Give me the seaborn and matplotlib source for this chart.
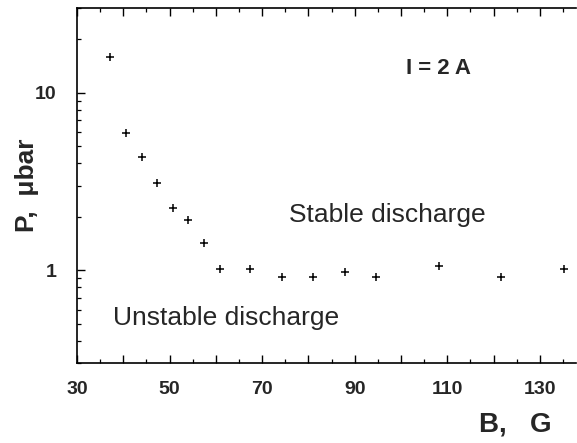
import matplotlib
matplotlib.use("Agg")
import matplotlib.pyplot as plt
import matplotlib.ticker as mticker
import seaborn as sns
import pandas as pd

# Data
B_field = [37.1, 40.6, 44.0, 47.3, 50.7, 54.0, 57.4, 60.8, 67.4, 74.2, 81.0, 87.9, 94.5, 108.1, 121.6, 135.1]
pressure = [15.9, 5.92, 4.33, 3.08, 2.23, 1.92, 1.43, 1.01, 1.01, 0.917, 0.92, 0.98, 0.92, 1.05, 0.92, 1.02]
x_major = [30, 40, 50, 60, 70, 80, 90, 100, 110, 120, 130]
x_labeled = [30, 50, 70, 90, 110, 130]
y_labeled = [1, 10]

sns.set_theme(style="ticks")
plt.rcParams["font.family"] = ["Liberation Sans", "DejaVu Sans"]

df = pd.DataFrame({"B": B_field, "P": pressure})

fig = plt.figure(figsize=(5.77, 4.43), dpi=100)
ax = fig.add_axes([77 / 577, 80 / 443, 499 / 577, 355 / 443])

sns.scatterplot(data=df, x="B", y="P", marker="+", color="black", s=26,
                linewidth=1.1, ax=ax, legend=False)

ax.set_yscale("log")
ax.set_ylim(0.3, 30)
ax.set_xlim(30, 137.8)

ax.xaxis.set_major_locator(mticker.FixedLocator(x_major))
ax.xaxis.set_minor_locator(mticker.MultipleLocator(5))
ax.xaxis.set_major_formatter(mticker.FuncFormatter(
    lambda v, p: f"{int(round(v))}" if int(round(v)) in x_labeled else ""))
ax.yaxis.set_major_locator(mticker.FixedLocator(y_labeled))
ax.yaxis.set_minor_locator(mticker.LogLocator(base=10, subs=range(2, 10)))
ax.yaxis.set_major_formatter(mticker.FuncFormatter(lambda v, p: f"{v:g}"))
ax.yaxis.set_minor_formatter(mticker.NullFormatter())

ax.tick_params(axis="x", which="both", direction="in", top=True, bottom=True)
ax.tick_params(axis="y", which="both", direction="in", left=True, right=False)
ax.tick_params(which="major", length=6, width=1.0, color="black")
ax.tick_params(which="minor", length=3, width=0.9, color="black")
ax.tick_params(axis="x", which="major", pad=13, labelsize=14)
ax.tick_params(axis="y", which="major", pad=15, labelsize=14)
for lab in ax.get_xticklabels() + ax.get_yticklabels():
    lab.set_fontweight("bold")

for side in ["left", "bottom", "top"]:
    ax.spines[side].set_color("black")
    ax.spines[side].set_linewidth(1.2)
ax.spines["right"].set_visible(False)

ax.set_xlabel("")
ax.set_ylabel("")
fig.text(27 / 577, 1 - 185 / 443, "P,  μbar", rotation=90, ha="center", va="center",
         fontsize=19, fontweight="bold")
fig.text(515 / 577, 1 - 424 / 443, "B,   G", ha="center", va="center",
         fontsize=20, fontweight="bold")

fig.text(438 / 577, 1 - 69 / 443, "I = 2 A", ha="center", va="center",
         fontsize=16, fontweight="bold")
fig.text(387 / 577, 1 - 215 / 443, "Stable discharge",
         ha="center", va="center", fontsize=19)
fig.text(226 / 577, 1 - 318 / 443, "Unstable discharge",
         ha="center", va="center", fontsize=19)

fig.savefig("out.png", dpi=100, facecolor="white")
